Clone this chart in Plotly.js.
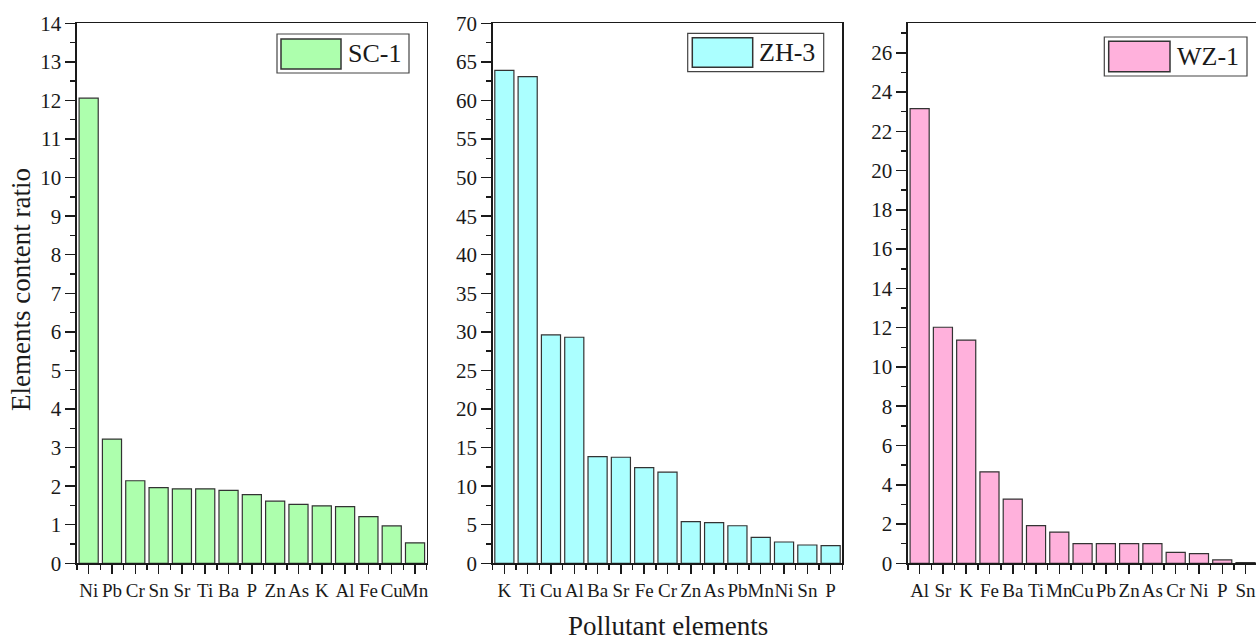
<!DOCTYPE html>
<html><head><meta charset="utf-8">
<script src="https://cdn.plot.ly/plotly-3.0.1.min.js"></script>
<style>html,body{margin:0;padding:0;background:#fff;} #chart{width:1256px;height:640px;}</style>
</head><body><div id="chart"></div>
<script>
// ---- data ----
const scElements = ['Ni','Pb','Cr','Sn','Sr','Ti','Ba','P','Zn','As','K','Al','Fe','Cu','Mn'];
const scValues   = [12.06,3.22,2.14,1.96,1.93,1.93,1.89,1.78,1.61,1.53,1.49,1.47,1.21,0.97,0.53];
const zhElements = ['K','Ti','Cu','Al','Ba','Sr','Fe','Cr','Zn','As','Pb','Mn','Ni','Sn','P'];
const zhValues   = [63.9,63.1,29.6,29.3,13.84,13.75,12.41,11.81,5.39,5.26,4.87,3.36,2.76,2.37,2.28];
const wzElements = ['Al','Sr','K','Fe','Ba','Ti','Mn','Cu','Pb','Zn','As','Cr','Ni','P','Sn'];
const wzValues   = [23.15,12.02,11.37,4.66,3.27,1.92,1.59,1.0,1.0,1.0,1.0,0.56,0.49,0.17,0.03];
const sampleNames = ['SC-1','ZH-3','WZ-1'];
const xTitle = 'Pollutant elements';
const yTitle = 'Elements content ratio';

// ---- styling ----
const W = 1256, H = 640;
const FONT = "'Liberation Serif','Times New Roman',Times,serif";
const INK = '#1a1a1a';
const colors = ['#adffad','#abffff','#ffb1dc'];
const px = x => x / W;
const py = y => 1 - y / H;

const plotTop = 23.3, plotBot = 563.3;
const panels = [
  {cats: scElements, vals: scValues, left: 77,    right: 426.7, yrange:[0,14],   dtick:1, minor:0.5, xmax:14.5,  mirrorY:true},
  {cats: zhElements, vals: zhValues, left: 492.7, right: 842.3, yrange:[0,70],   dtick:5, minor:2.5, xmax:14.5,  mirrorY:true},
  {cats: wzElements, vals: wzValues, left: 908,   right: 1256,  yrange:[0,27.5], dtick:2, minor:1,   xmax:14.45, mirrorY:false}
];
const legendBoxes = [
  {box:[277,34,409,73],      sw:[281,39,341,69],      tx:346,  ty:54},
  {box:[687.7,33.3,823.7,71.7], sw:[692.3,37.7,752.7,67.3], tx:757, ty:52.5},
  {box:[1104.3,37,1247,76],  sw:[1108.7,41.3,1170,71.7], tx:1175, ty:56.5}
];

const traces = [];
const layout = {
  width: W, height: H, margin:{l:0,r:0,t:0,b:0},
  paper_bgcolor:'#fff', plot_bgcolor:'#fff',
  showlegend:false, bargap:0.18,
  font:{family:FONT, color:INK},
  shapes:[], annotations:[]
};

panels.forEach((p, i) => {
  const n = i === 0 ? '' : String(i + 1);
  const idx = p.cats.map((_, k) => k);
  traces.push({
    type:'bar', x: idx, y: p.vals, name: sampleNames[i],
    xaxis:'x' + n, yaxis:'y' + n,
    marker:{color: colors[i], line:{color:'#333', width:1.2}},
    hoverinfo:'skip'
  });
  layout['xaxis' + n] = {
    domain:[px(p.left), px(p.right)], range:[-0.5, p.xmax], anchor:'y' + n,
    tickmode:'array', tickvals: idx, ticktext: p.cats, tickangle:0,
    ticklabeloverflow:'allow',
    ticks:'outside', ticklen:9, tickwidth:1.5, tickcolor:INK,
    showline:true, linecolor:INK, linewidth:1.6, mirror:true,
    showgrid:false, zeroline:false, fixedrange:true,
    tickfont:{family:FONT, size:19, color:INK},
    minor:{tickmode:'linear', tick0:0.5, dtick:1, ticks:'outside', ticklen:5, tickwidth:1.5, tickcolor:INK, showgrid:false}
  };
  layout['yaxis' + n] = {
    domain:[py(plotBot), py(plotTop)], range:p.yrange, anchor:'x' + n,
    tickmode:'linear', tick0:0, dtick:p.dtick, tickangle:0,
    ticks:'outside', ticklen:10, tickwidth:1.5, tickcolor:INK,
    showline:true, linecolor:INK, linewidth:1.6, mirror:p.mirrorY,
    showgrid:false, zeroline:false, fixedrange:true,
    tickfont:{family:FONT, size:21, color:INK},
    minor:{tickmode:'linear', tick0:0, dtick:p.minor, ticks:'outside', ticklen:5, tickwidth:1.5, tickcolor:INK, showgrid:false}
  };
  const lb = legendBoxes[i];
  layout.shapes.push({type:'rect', xref:'paper', yref:'paper',
    x0:px(lb.box[0]), x1:px(lb.box[2]), y0:py(lb.box[3]), y1:py(lb.box[1]),
    fillcolor:'#fff', line:{color:'#444', width:1.2}});
  layout.shapes.push({type:'rect', xref:'paper', yref:'paper',
    x0:px(lb.sw[0]), x1:px(lb.sw[2]), y0:py(lb.sw[3]), y1:py(lb.sw[1]),
    fillcolor:colors[i], line:{color:'#333', width:1.5}});
  layout.annotations.push({xref:'paper', yref:'paper', x:px(lb.tx), y:py(lb.ty),
    xanchor:'left', yanchor:'middle', showarrow:false, text:sampleNames[i],
    font:{family:FONT, size:26, color:INK}});
});

layout.annotations.push({xref:'paper', yref:'paper', x:px(668), y:py(626),
  xanchor:'center', yanchor:'middle', showarrow:false, text:xTitle,
  font:{family:FONT, size:27, color:INK}});
layout.annotations.push({xref:'paper', yref:'paper', x:px(21), y:py(290),
  xanchor:'center', yanchor:'middle', showarrow:false, text:yTitle, textangle:-90,
  font:{family:FONT, size:27, color:INK}});

Plotly.newPlot('chart', traces, layout, {staticPlot:true, displayModeBar:false});
</script>
</body></html>
